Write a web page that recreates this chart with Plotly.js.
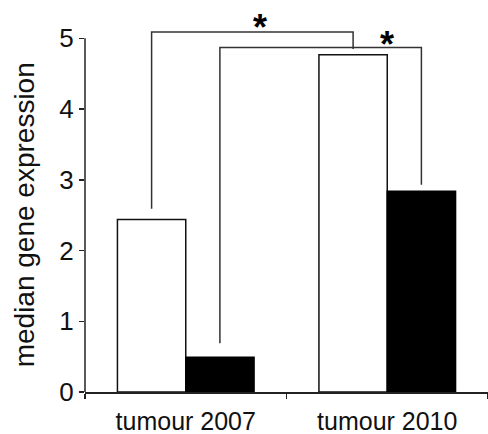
<!DOCTYPE html>
<html>
<head>
<meta charset="utf-8">
<script src="https://cdn.plot.ly/plotly-3.0.1.min.js"></script>
<style>html,body{margin:0;padding:0;background:#fff;}#chart{width:488px;height:434px;}</style>
</head>
<body>
<div id="chart"></div>
<script>
// Data
var categories = ['tumour 2007', 'tumour 2010'];
var whiteValues = [2.44, 4.77];
var blackValues = [0.49, 2.84];
var yTicks = [0, 1, 2, 3, 4, 5];
var yTitle = 'median gene expression';
// Significance brackets: [category, series, foot value]
var bracketFrom = [[0, 'white', 2.59], [0, 'black', 0.69]];
var bracketTo = [[1, 'white', 4.85], [1, 'black', 2.93]];
var bracketLevel = [5.09, 4.87];
var starLabels = ['*', '*'];
var starX = [0.37, 1.0];
var starY = [5.15, 4.92];

var bargap = 0.322;
var half = (1 - bargap) / 4; // offset of each bar centre from its category centre
var catIdx = categories.map(function (c, i) { return i; });
function bx(cat, series) { return cat + (series === 'white' ? -half : half); }

var lineCol = '#222';
var traces = [
  { type: 'bar', x: catIdx, y: whiteValues, marker: { color: '#fff', line: { color: '#111', width: 1.5 } }, hoverinfo: 'none' },
  { type: 'bar', x: catIdx, y: blackValues, marker: { color: '#000', line: { color: '#000', width: 1.5 } }, hoverinfo: 'none' }
];

var shapes = [];
shapes.push({ type: 'line', xref: 'paper', yref: 'y', x0: 0, x1: 0, y0: yTicks[0], y1: yTicks[yTicks.length - 1], line: { color: lineCol, width: 1.5 } });
var annotations = [];
for (var i = 0; i < bracketLevel.length; i++) {
  var xa = bx(bracketFrom[i][0], bracketFrom[i][1]);
  var xb = bx(bracketTo[i][0], bracketTo[i][1]);
  shapes.push({ type: 'path', xref: 'x', yref: 'y',
    path: 'M' + xa + ',' + bracketFrom[i][2] + ' L' + xa + ',' + bracketLevel[i] + ' L' + xb + ',' + bracketLevel[i] + ' L' + xb + ',' + bracketTo[i][2],
    line: { color: '#333', width: 1.5 } });
  annotations.push({ x: starX[i], y: starY[i], xref: 'x', yref: 'y', text: '<b>' + starLabels[i] + '</b>', showarrow: false,
    font: { family: 'Liberation Sans, Arial, sans-serif', size: 36, color: '#000' }, yanchor: 'middle' });
}
annotations.push({ xref: 'paper', yref: 'y', x: -0.151, y: 2.5, text: yTitle, textangle: -90, showarrow: false,
  font: { family: 'Liberation Sans, Arial, sans-serif', size: 28, color: '#111' }, xanchor: 'center', yanchor: 'middle' });

var layout = {
  width: 488, height: 434,
  margin: { l: 85, r: 0, t: 3, b: 42 },
  paper_bgcolor: '#fff', plot_bgcolor: '#fff',
  showlegend: false,
  barmode: 'group', bargap: bargap, bargroupgap: 0,
  font: { family: 'Liberation Sans, Arial, sans-serif', color: '#111' },
  xaxis: {
    range: [-0.5, 1.5], tickmode: 'array', tickvals: catIdx, ticktext: categories, ticks: '',
    showline: true, linecolor: lineCol, linewidth: 1.5, showgrid: false, zeroline: false,
    tickfont: { size: 25, color: '#111' }, ticklabelstandoff: 6,
    minor: { tickmode: 'array', tickvals: [-0.5, 0.5, 1.5], ticks: 'outside', ticklen: 5, tickcolor: lineCol, tickwidth: 1.5, showgrid: false }
  },
  yaxis: {
    range: [0, 5.5], tickmode: 'array', tickvals: yTicks, ticks: 'outside', ticklen: 5, tickwidth: 1.5, tickcolor: lineCol,
    showline: false, showgrid: false, zeroline: false, tickfont: { size: 26, color: '#111' }
  },
  shapes: shapes,
  annotations: annotations
};
Plotly.newPlot('chart', traces, layout, { staticPlot: true, displayModeBar: false });
</script>
</body>
</html>
